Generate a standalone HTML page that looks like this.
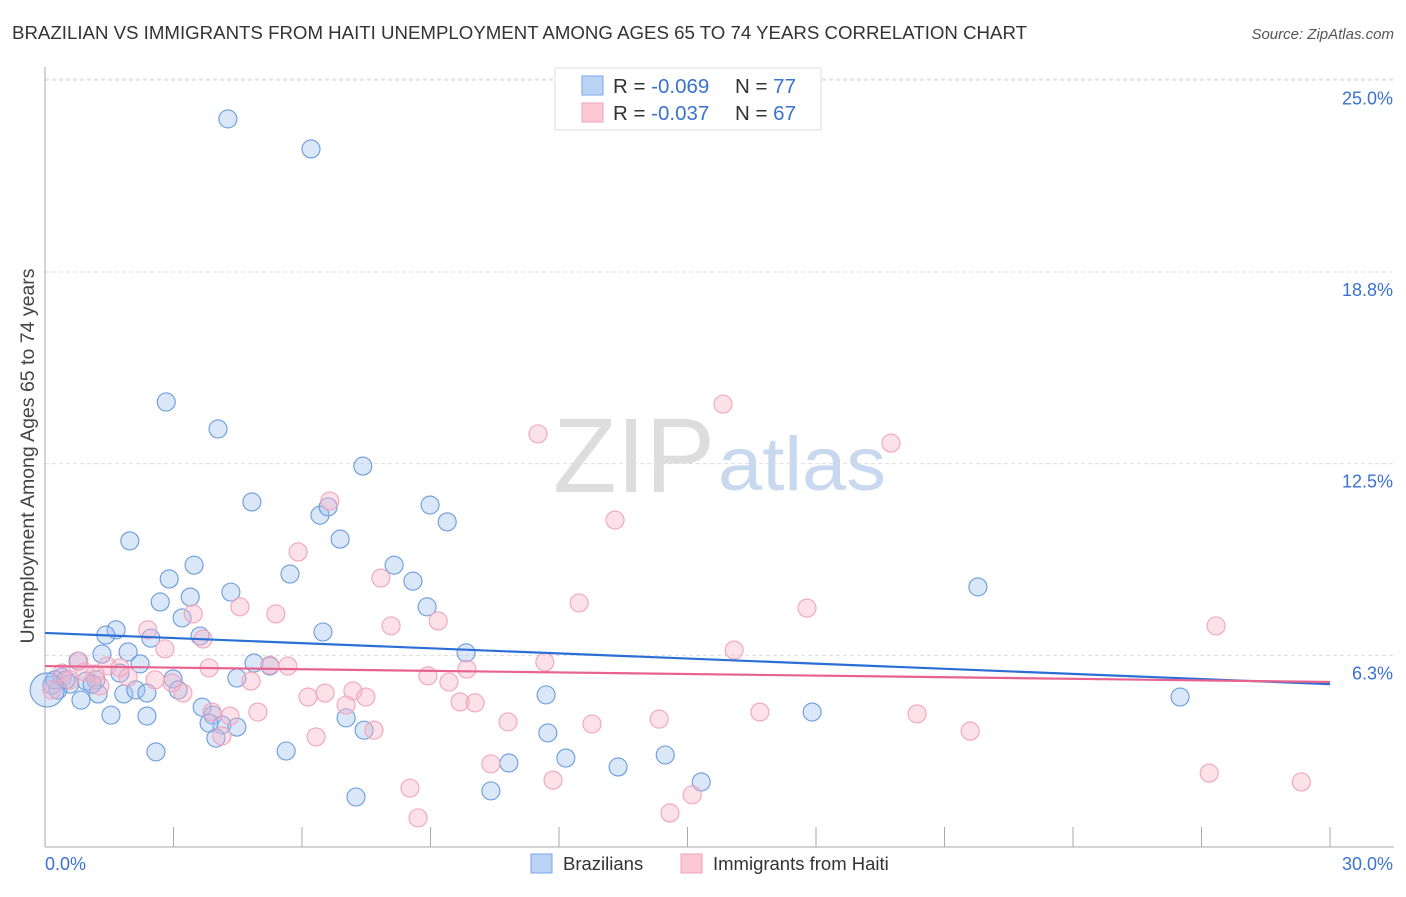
<!DOCTYPE html>
<html><head><meta charset="utf-8"><style>
body{margin:0;background:#fff;font-family:"Liberation Sans",sans-serif;}
svg text{font-family:"Liberation Sans",sans-serif;}
</style></head><body>
<svg id="chart" width="1406" height="892">
<text x="12" y="39" font-size="18.6" fill="#333" textLength="1015" lengthAdjust="spacingAndGlyphs">BRAZILIAN VS IMMIGRANTS FROM HAITI UNEMPLOYMENT AMONG AGES 65 TO 74 YEARS CORRELATION CHART</text>
<text x="1394" y="39" font-size="15" fill="#555" font-style="italic" text-anchor="end">Source: ZipAtlas.com</text>
<text transform="translate(34,456) rotate(-90)" font-size="19.5" fill="#444" text-anchor="middle">Unemployment Among Ages 65 to 74 years</text>
<g>
<text x="553" y="492" font-size="106" font-family="Liberation Serif,serif" fill="#ddd" textLength="162" lengthAdjust="spacingAndGlyphs">ZIP</text>
<text x="718" y="490" font-size="76" fill="#c8d8ef" textLength="168" lengthAdjust="spacingAndGlyphs">atlas</text>
</g>
<g id="grid"></g><g id="axes"></g><g id="pts"></g><g id="trend"></g>
<g>
<rect x="555" y="68" width="266" height="62" fill="#fff" stroke="#ddd"/>
<rect x="582" y="76" width="21" height="19" fill="#b9d3f5" stroke="#7aa6e6"/>
<rect x="582" y="103" width="21" height="19" fill="#fcc8d6" stroke="#f0a0b8"/>
<text x="613" y="93" font-size="20.5" fill="#333">R = <tspan fill="#3a72d0">-0.069</tspan></text>
<text x="735" y="93" font-size="20.5" fill="#333">N = <tspan fill="#3a72d0">77</tspan></text>
<text x="613" y="120" font-size="20.5" fill="#333">R = <tspan fill="#3a72d0">-0.037</tspan></text>
<text x="735" y="120" font-size="20.5" fill="#333">N = <tspan fill="#3a72d0">67</tspan></text>
</g>
<g>
<rect x="531" y="854" width="21" height="19" fill="#b9d3f5" stroke="#7aa6e6"/>
<text x="563" y="870" font-size="18.5" fill="#333">Brazilians</text>
<rect x="681" y="854" width="21" height="19" fill="#fcc8d6" stroke="#f0a0b8"/>
<text x="713" y="870" font-size="18.5" fill="#333">Immigrants from Haiti</text>
</g>
</svg>
<script>
const yTicks=[25,18.75,12.5,6.25];
const yTickLabels=["25.0%","18.8%","12.5%","6.3%"];
const xTicks=[0,3,6,9,12,15,18,21,24,27,30];
const xLabels=["0.0%","30.0%"];
const blueX=[4.27,6.21,2.83,4.04,7.42,4.83,8.99,6.42,6.61,9.39,1.98,6.89,3.48,8.15,2.90,5.72,8.59,21.78,2.69,3.39,4.34,8.92,3.20,1.66,1.42,2.47,3.62,6.49,9.83,1.33,1.94,0.77,2.22,4.88,5.25,0.40,1.19,1.75,2.99,4.48,0.16,0.58,0.96,0.30,1.24,1.84,2.12,2.38,3.11,11.70,26.50,0.84,1.54,2.38,3.67,3.92,4.13,4.48,7.03,17.91,3.83,3.99,2.59,5.63,7.45,11.74,12.16,10.83,13.38,14.48,15.32,10.41,7.26,0.23,0.49,1.10,0.05];
const blueY=[23.74,22.76,14.51,13.63,12.42,11.25,11.15,10.82,11.09,10.60,9.98,10.04,9.19,9.19,8.74,8.90,8.67,8.48,7.99,8.15,8.31,7.83,7.47,7.08,6.91,6.81,6.88,7.01,6.33,6.29,6.36,6.06,5.97,6.00,5.90,5.54,5.45,5.67,5.48,5.51,5.28,5.31,5.41,5.12,4.99,4.99,5.12,5.02,5.12,4.96,4.89,4.79,4.30,4.27,4.56,4.30,3.98,3.91,4.21,4.40,4.04,3.55,3.10,3.13,3.81,3.72,2.90,2.74,2.61,3.00,2.12,1.83,1.63,5.45,5.45,5.31,5.12];
const pinkX=[15.83,11.51,19.75,6.65,13.31,5.91,7.84,4.55,5.39,12.47,17.79,3.46,2.40,3.69,8.08,9.18,27.34,2.80,16.09,0.79,1.45,1.17,1.75,1.94,2.57,2.97,3.83,5.25,5.67,11.67,9.85,8.94,9.43,4.81,1.28,3.22,6.54,6.14,7.19,7.49,7.03,9.69,10.04,3.90,4.32,4.97,10.81,12.77,14.34,16.69,20.36,21.60,7.68,6.33,4.13,10.41,11.86,8.52,27.18,29.33,15.11,14.59,8.71,0.40,0.58,0.16,0.93];
const pinkY=[14.44,13.47,13.17,11.28,10.66,9.62,8.77,7.83,7.60,7.96,7.79,7.60,7.08,6.78,7.21,7.37,7.21,6.46,6.42,6.06,5.90,5.64,5.84,5.54,5.45,5.35,5.84,5.93,5.90,6.03,5.80,5.58,5.38,5.41,5.25,5.02,5.02,4.89,5.09,4.89,4.63,4.73,4.70,4.40,4.27,4.40,4.08,4.01,4.17,4.40,4.34,3.78,3.81,3.59,3.62,2.71,2.18,1.92,2.41,2.12,1.70,1.11,0.95,5.67,5.45,5.12,5.71];
const blueTrend=[6.98,5.31];
const pinkTrend=[5.90,5.38];
const X0=45,X1=1330,Y0=847,PXY=30.67;
const sx=v=>X0+v*(X1-X0)/30;
const sy=v=>Y0-v*PXY;
const NS="http://www.w3.org/2000/svg";
function mk(t,a,p){const e=document.createElementNS(NS,t);for(const k in a)e.setAttribute(k,a[k]);p.appendChild(e);return e;}
const grid=document.getElementById('grid'),axes=document.getElementById('axes');
mk('line',{x1:X0,x2:1394,y1:79,y2:79,stroke:'#ddd','stroke-dasharray':'4,3'},grid);
yTicks.forEach((v,i)=>{
 const l=mk('line',{x1:X0,x2:1394,y1:sy(v),y2:sy(v),stroke:'#ddd','stroke-dasharray':'4,3'},grid);
 
 
 const t=mk('text',{x:1393,y:sy(v)+24,'font-size':18,fill:'#3a72d0','text-anchor':'end'},axes);
 t.textContent=yTickLabels[i];
 
 
});
mk('line',{x1:X0,x2:X0,y1:67,y2:Y0,stroke:'#aaa'},axes);
mk('line',{x1:X0,x2:X1+64,y1:Y0,y2:Y0,stroke:'#aaa'},axes);
xTicks.forEach(v=>{
 const l=mk('line',{x1:sx(v),x2:sx(v),y1:827,y2:Y0,stroke:'#aaa'},axes);
 
 
});
let t0=mk('text',{x:45,y:870,'font-size':18,fill:'#3a72d0'},axes);t0.textContent=xLabels[0];


let t1=mk('text',{x:1393,y:870,'font-size':18,fill:'#3a72d0','text-anchor':'end'},axes);t1.textContent=xLabels[1];


const pts=document.getElementById('pts');
function series(xs,ys,fill,stroke,name){
 xs.forEach((x,i)=>{
  const c=mk('circle',{cx:sx(x),cy:sy(ys[i]),r:(i===xs.length-1&&name==='brazilian-point')?17:9,fill:fill,stroke:stroke,'stroke-width':1.1},pts);
  
  
 });
}
series(blueX,blueY,'rgba(160,196,240,0.4)','#6a9ade','brazilian-point');
series(pinkX,pinkY,'rgba(248,180,200,0.4)','#f2a3bb','haiti-point');
const tr=document.getElementById('trend');
const bl=mk('line',{x1:sx(0),y1:sy(blueTrend[0]),x2:sx(30),y2:sy(blueTrend[1]),stroke:'#2a6fd6','stroke-width':2.2},tr);


const pl=mk('line',{x1:sx(0),y1:sy(pinkTrend[0]),x2:sx(30),y2:sy(pinkTrend[1]),stroke:'#e8628f','stroke-width':2.2},tr);


</script>
</body></html>
